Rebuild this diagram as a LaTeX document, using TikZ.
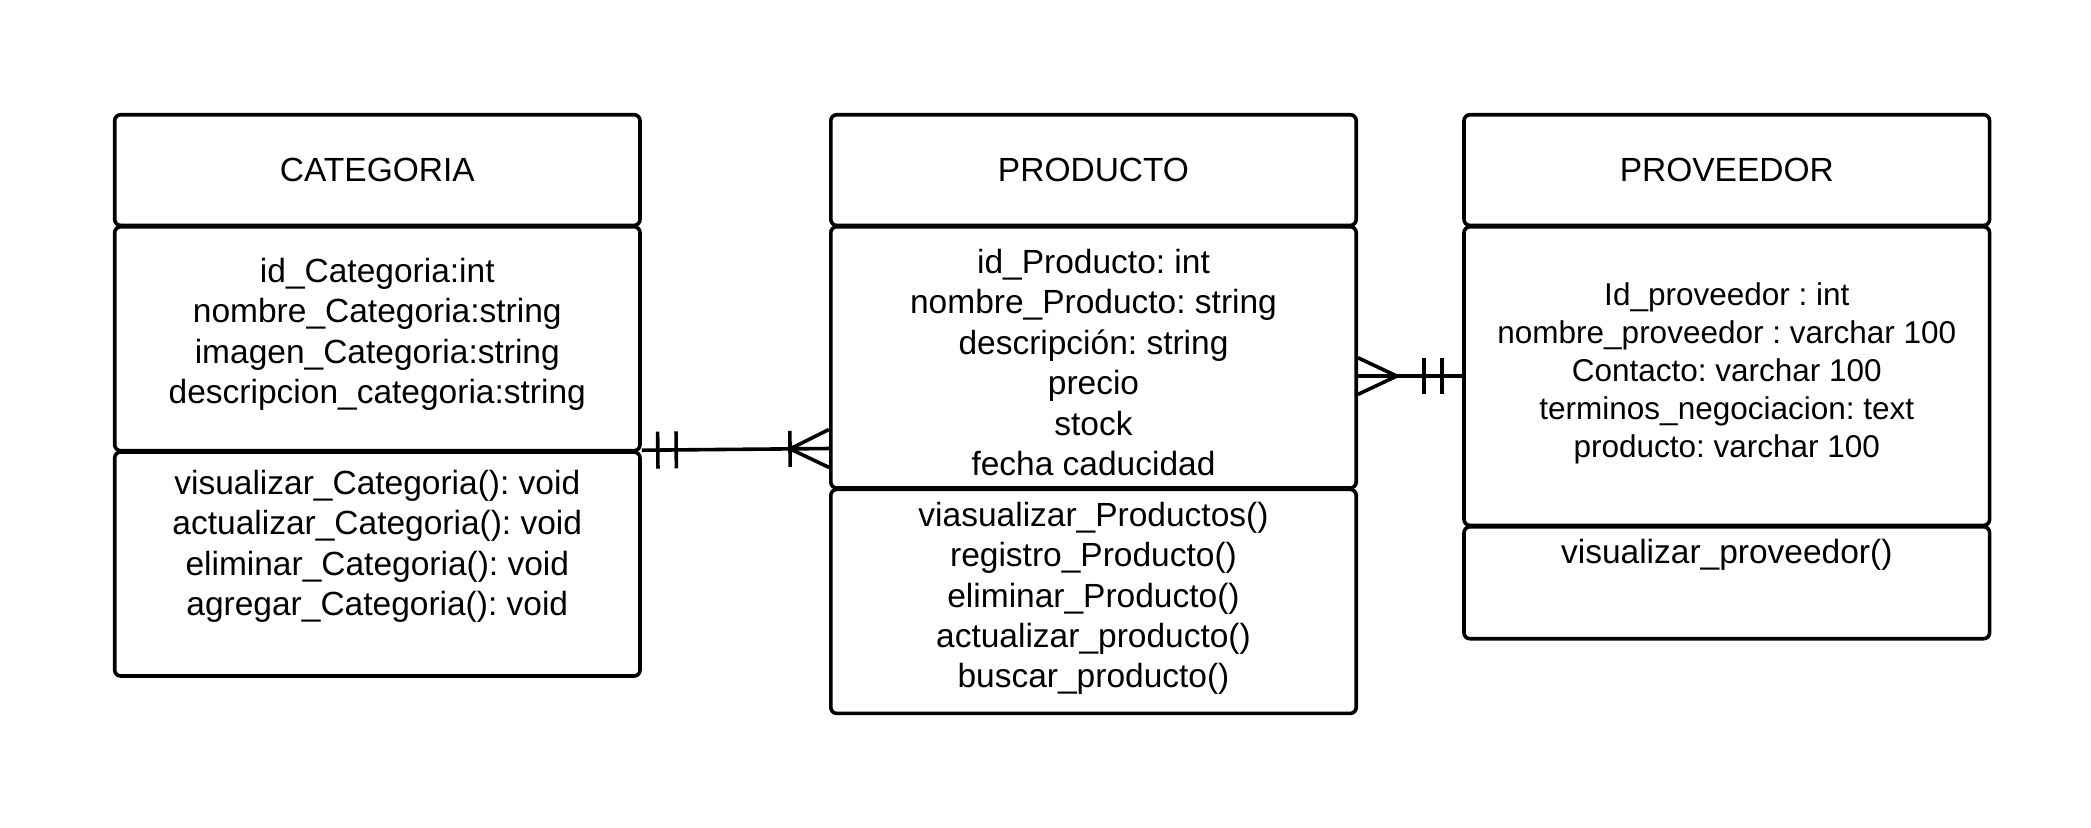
\documentclass[tikz,border=0pt]{standalone}
\usepackage{fontspec}
\setmainfont{Liberation Sans}
\usetikzlibrary{fit,calc}
\frenchspacing
\begin{document}
\begin{tikzpicture}[x=0.5pt,y=-0.5pt,
  cbox/.style={draw, line width=1.8pt, rounded corners=3pt, inner sep=0pt},
  txt/.style={font=\fontsize{16.75pt}{20.2pt}\selectfont, align=center, inner sep=0pt},
  stxt/.style={font=\fontsize{15.75pt}{19pt}\selectfont, align=center, inner sep=0pt},
  conn/.style={line width=1.8pt}]
\useasboundingbox (0,0) rectangle (2091,827);

% CATEGORIA
\node[cbox, fit={(114.7,114.7) (640,225.4)}] (cath) {};
\node[cbox, fit={(114.7,226.7) (640,450.7)}] (cata) {};
\node[cbox, fit={(114.7,452) (640,676)}] (catm) {};
% PRODUCTO
\node[cbox, fit={(830.8,114.7) (1356.2,225.4)}] (prodh) {};
\node[cbox, fit={(830.8,226.7) (1356.2,488)}] (proda) {};
\node[cbox, fit={(830.8,489.4) (1356.2,713.4)}] (prodm) {};
% PROVEEDOR
\node[cbox, fit={(1464,114.7) (1989.6,225.4)}] (provh) {};
\node[cbox, fit={(1464,226.7) (1989.6,525.4)}] (prova) {};
\node[cbox, fit={(1464,526.7) (1989.6,638.7)}] (provm) {};

% texts
\node[txt] (tcath) at (377.3,169.5) {CATEGORIA};
\node[txt] (tcata) at (377.3,334.5) {id\_Categoria:int\\nombre\_Categoria:string\\imagen\_Categoria:string\\descripcion\_categoria:string};
\node[txt] (tcatm) at (377.3,546.5) {visualizar\_Categoria(): void\\actualizar\_Categoria(): void\\eliminar\_Categoria(): void\\agregar\_Categoria(): void};

\node[txt] (tprodh) at (1093.5,169.5) {PRODUCTO};
\node[txt] (tproda) at (1093.5,362.5) {id\_Producto: int\\nombre\_Producto: string\\descripción: string\\precio\\stock\\fecha caducidad};
\node[txt] (tprodm) at (1093.5,598.5) {viasualizar\_Productos()\\registro\_Producto()\\eliminar\_Producto()\\actualizar\_producto()\\buscar\_producto()};

\node[txt] (tprovh) at (1726.8,169.5) {PROVEEDOR};
\node[stxt] (tprova) at (1726.8,373.7) {Id\_proveedor : int\\nombre\_proveedor : varchar 100\\Contacto: varchar 100\\terminos\_negociacion: text\\producto: varchar 100};
\node[txt] (tprovm) at (1726.8,555) {visualizar\_proveedor()};

% connector 1: CATEGORIA (one) -- PRODUCTO (many)
\coordinate (c1a) at (catm.north east);
\coordinate (c1b) at ([yshift=20.65pt]proda.south west);
\draw[conn] (c1a) -- (c1b);
\draw[conn] ($(c1a)!8pt!(c1b)!9.25pt!90:(c1b)$) -- ($(c1a)!8pt!(c1b)!9.25pt!-90:(c1b)$);
\draw[conn] ($(c1a)!17.2pt!(c1b)!9.25pt!90:(c1b)$) -- ($(c1a)!17.2pt!(c1b)!9.25pt!-90:(c1b)$);
\draw[conn] ($(c1b)!19.5pt!(c1a)!9pt!90:(c1a)$) -- ($(c1b)!19.5pt!(c1a)!9pt!-90:(c1a)$);
\draw[conn] ($(c1b)!9.5pt!90:(c1a)$) -- ($(c1b)!19.5pt!(c1a)$);
\draw[conn] ($(c1b)!9.5pt!-90:(c1a)$) -- ($(c1b)!19.5pt!(c1a)$);

% connector 2: PRODUCTO (many) -- PROVEEDOR (one)
\coordinate (c2a) at (proda.east |- prova.west);
\coordinate (c2b) at (prova.west);
\draw[conn] (c2a) -- (c2b);
\draw[conn] ($(c2a)!9.15pt!90:(c2b)$) -- ($(c2a)!19.4pt!(c2b)$);
\draw[conn] ($(c2a)!9.15pt!-90:(c2b)$) -- ($(c2a)!19.4pt!(c2b)$);
\draw[conn] ($(c2b)!10pt!(c2a)!9.2pt!90:(c2a)$) -- ($(c2b)!10pt!(c2a)!9.2pt!-90:(c2a)$);
\draw[conn] ($(c2b)!19pt!(c2a)!9.2pt!90:(c2a)$) -- ($(c2b)!19pt!(c2a)!9.2pt!-90:(c2a)$);
\end{tikzpicture}
\end{document}
